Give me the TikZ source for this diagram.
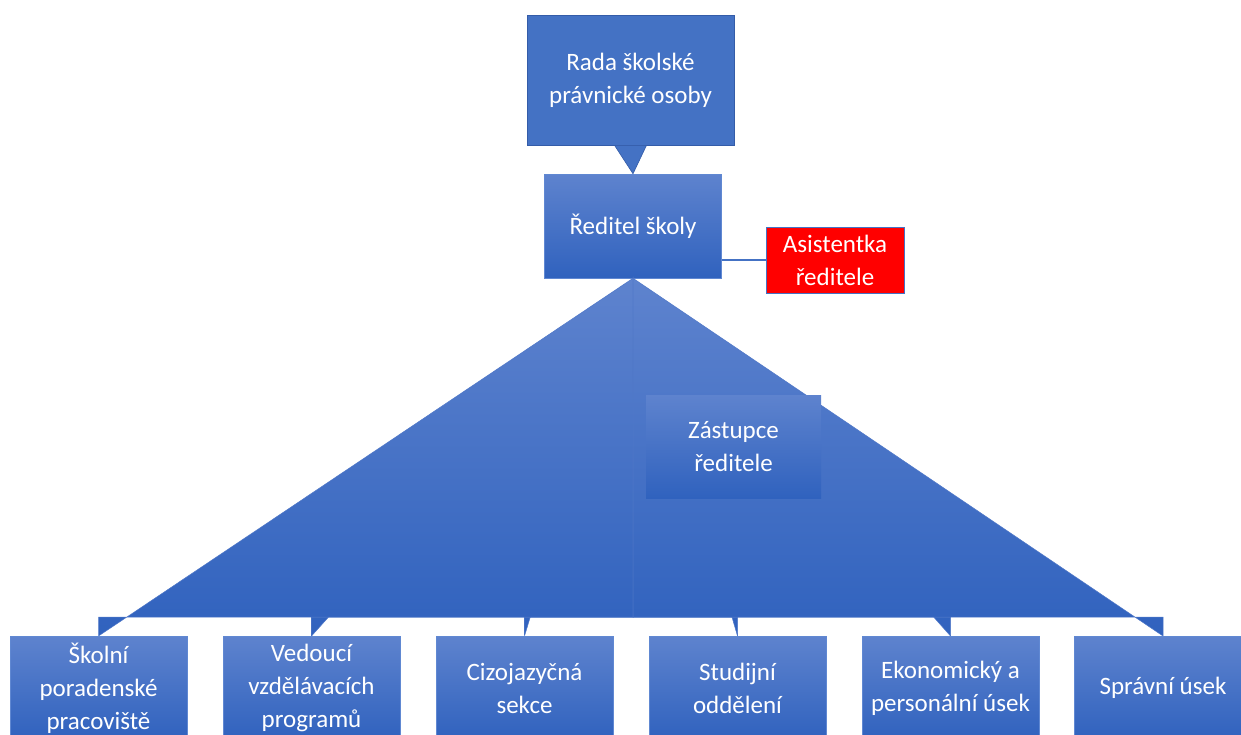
\documentclass[tikz,border=0pt]{standalone}
\usepackage{fontspec}
\setmainfont{Carlito}
\definecolor{boxtop}{RGB}{94,131,206}
\definecolor{boxbot}{RGB}{48,98,190}
\definecolor{boxedge}{RGB}{96,136,210}
\definecolor{radafill}{RGB}{68,114,196}
\definecolor{radaedge}{RGB}{52,92,168}
\definecolor{fanedge}{RGB}{80,120,200}
\definecolor{linkblue}{RGB}{68,114,196}
\tikzset{
  txt/.style={text=white, align=center, font=\fontsize{25}{33}\selectfont, inner sep=0pt},
  orgbox/.style={txt, minimum width=177pt, minimum height=104pt,
    top color=boxtop, bottom color=boxbot, draw=boxedge, line width=0.5pt},
  radabox/.style={txt, minimum width=207pt, minimum height=130pt,
    fill=radafill, draw=radaedge, line width=0.6pt},
  redbox/.style={txt, minimum width=138pt, minimum height=66pt,
    fill=red, draw=linkblue, line width=0.8pt},
  zastbox/.style={txt, minimum width=175pt, minimum height=103pt,
    top color=boxtop, bottom color=boxbot, draw=none},
  fan/.style={top color=boxtop, bottom color=boxbot, draw=fanedge, line width=0.5pt},
  wedge/.style={fill=radafill, draw=radaedge, line width=0.6pt},
  link/.style={draw=linkblue, line width=2pt}
}
\begin{document}
\begin{tikzpicture}[x=1pt,y=-1pt]
\useasboundingbox (0,0) rectangle (1241,734);
\clip (0,0) rectangle (1241,734);

% nodes (positions)
\node[radabox] (rada) at (630.5,80) {Rada školské\\právnické osoby};
\node[orgbox] (dir) at (633,226) {Ředitel školy};
\node[redbox] (asist) at (835,260) {Asistentka\\ředitele};
\coordinate (bus) at (633,617);

% child anchor points
\path (98.5,688) coordinate (p1) (311.5,688) coordinate (p2) (524.5,688) coordinate (p3)
      (737.5,688) coordinate (p4) (950.5,688) coordinate (p5) (1163,688) coordinate (p6);
\path (98.5,636) coordinate (t1) (311.5,636) coordinate (t2) (524.5,636) coordinate (t3)
      (737.5,636) coordinate (t4) (950.5,636) coordinate (t5) (1163,636) coordinate (t6);

% fan connectors from director to each child (inner first, outer last)
\foreach \i in {3,4,2,5,1,6}{
  \path[fan] (dir.south) -- (dir.south |- bus) -- (t\i |- bus) -- (t\i) -- cycle;
}

% wedge from Rada to director
\path[wedge] ([xshift=-16pt]rada.south) -- ([xshift=16pt]rada.south) -- (dir.north) -- cycle;

% link to assistant
\draw[link] (dir.east |- asist.west) -- (asist.west);

% deputy
\node[zastbox] (zast) at (733.5,446.5) {Zástupce\\ředitele};

% children boxes
\node[orgbox] (c1) at (p1) {Školní\\poradenské\\pracoviště};
\node[orgbox] (c2) at (p2) {Vedoucí\\vzdělávacích\\programů};
\node[orgbox] (c3) at (p3) {Cizojazyčná\\sekce};
\node[orgbox] (c4) at (p4) {Studijní\\oddělení};
\node[orgbox] (c5) at (p5) {Ekonomický a\\personální úsek};
\node[orgbox] (c6) at (p6) {Správní úsek};
\end{tikzpicture}
\end{document}
